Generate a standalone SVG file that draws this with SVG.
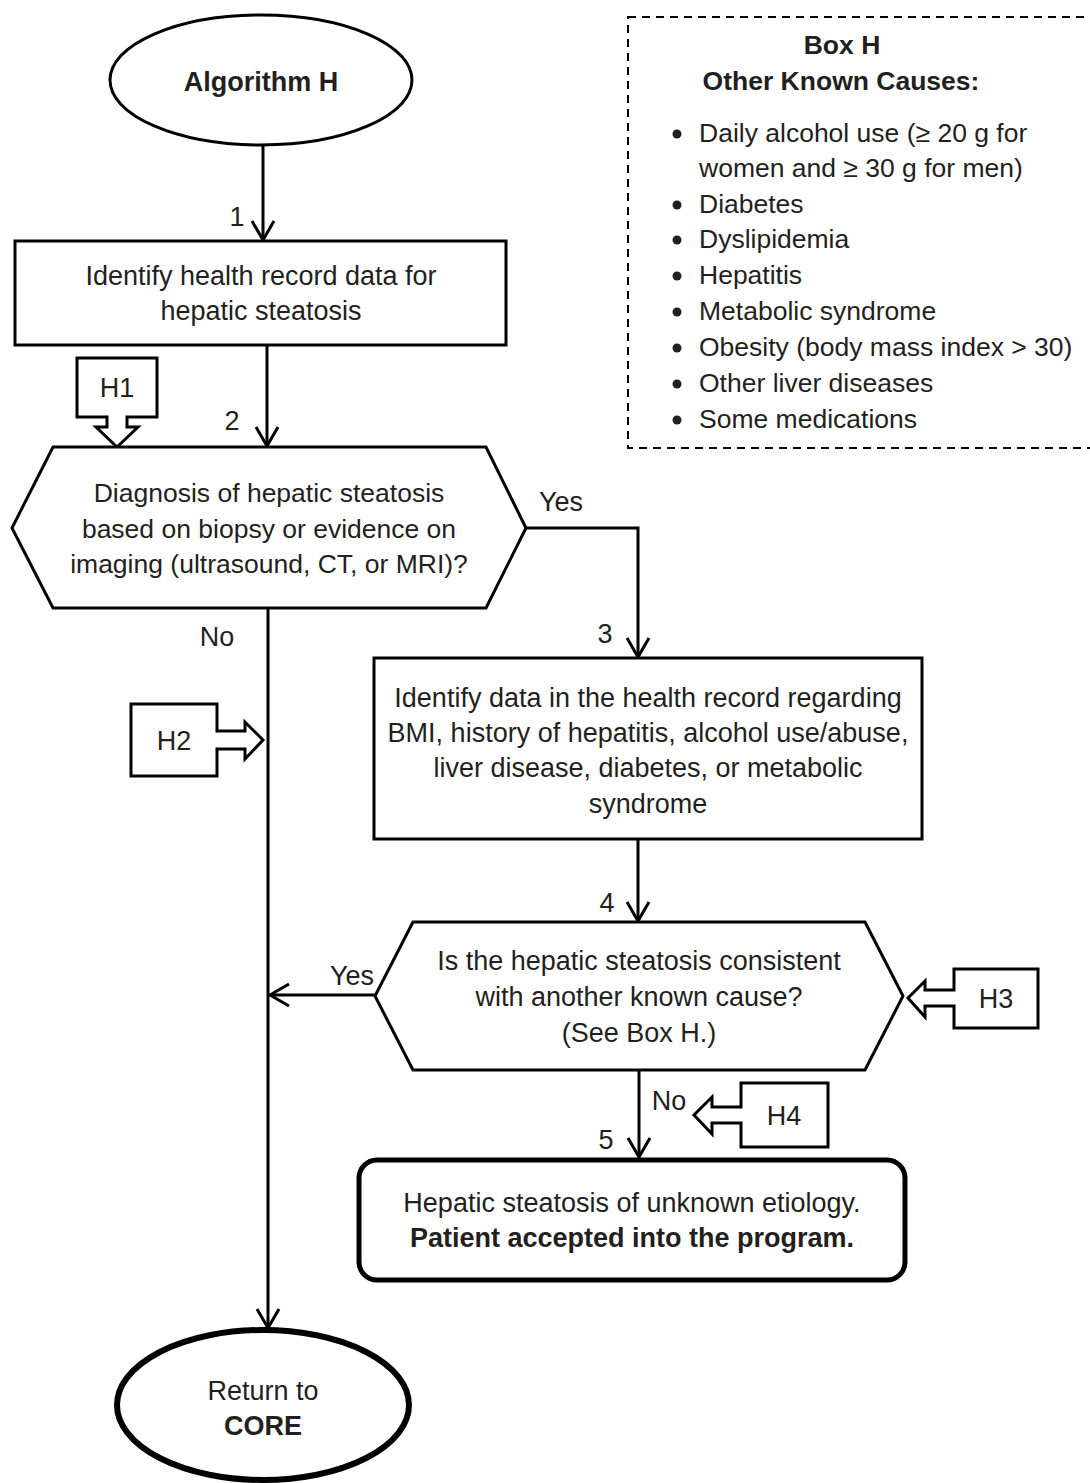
<svg xmlns="http://www.w3.org/2000/svg" width="1090" height="1483" viewBox="0 0 1090 1483">
<defs>
<style>
text{font-family:"Liberation Sans",Arial,sans-serif;font-size:27px;fill:#231f20}
.c{text-anchor:middle}
.b{font-weight:bold}
.s26{font-size:26.5px}
.sh{fill:#fff;stroke:#000;stroke-width:3;stroke-linejoin:miter}
.thick{fill:#fff;stroke:#000;stroke-width:6}
.ln{fill:none;stroke:#000;stroke-width:3}
.dash{fill:none;stroke:#000;stroke-width:2;stroke-dasharray:8 6}
</style>
<marker id="ah" markerUnits="userSpaceOnUse" markerWidth="24" markerHeight="26" viewBox="0 0 24 26" refX="21" refY="13" orient="auto">
<path d="M2,2 L21,13 L2,24" fill="none" stroke="#000" stroke-width="3"/>
</marker>
</defs>
<rect width="1090" height="1483" fill="#fff"/>

<g id="connectors">
<line class="ln" x1="263" y1="145" x2="263" y2="240" marker-end="url(#ah)"/>
<line class="ln" x1="267" y1="345" x2="267" y2="446" marker-end="url(#ah)"/>
<polyline class="ln" points="526,528 638,528 638,657" marker-end="url(#ah)"/>
<line class="ln" x1="268" y1="608" x2="268" y2="1328" marker-end="url(#ah)"/>
<line class="ln" x1="638" y1="839" x2="638" y2="921" marker-end="url(#ah)"/>
<line class="ln" x1="375" y1="995" x2="270" y2="995" marker-end="url(#ah)"/>
<line class="ln" x1="639" y1="1070" x2="639" y2="1157" marker-end="url(#ah)"/>
<text class="c" x="237" y="226">1</text>
<text class="c" x="232" y="430">2</text>
<text class="c" x="561" y="511">Yes</text>
<text class="c" x="217" y="646">No</text>
<text class="c" x="605" y="643">3</text>
<text class="c" x="607" y="912">4</text>
<text class="c" x="352" y="985">Yes</text>
<text class="c" x="669" y="1110">No</text>
<text class="c" x="606" y="1149">5</text>
</g>

<g id="start">
<ellipse class="sh" cx="261" cy="80" rx="151" ry="65"/>
<text class="c b" x="261" y="91">Algorithm H</text>
</g>

<g id="step1">
<rect class="sh" x="15" y="241" width="491" height="104"/>
<text class="c" x="261" y="285">Identify health record data for</text>
<text class="c" x="261" y="320">hepatic steatosis</text>
</g>

<g id="h1">
<polygon class="sh" points="77,358 157,358 157,417 127,417 127,427 138,427 117,447 96,427 107,427 107,417 77,417"/>
<text class="c" x="117" y="397">H1</text>
</g>

<g id="decision2">
<polygon class="sh" points="53,447 486,447 526,528 486,608 53,608 12,528"/>
<text class="c s26" x="269" y="502">Diagnosis of hepatic steatosis</text>
<text class="c s26" x="269" y="538">based on biopsy or evidence on</text>
<text class="c s26" x="269" y="573">imaging (ultrasound, CT, or MRI)?</text>
</g>

<g id="h2">
<polygon class="sh" points="131,704 217,704 217,731 245,731 245,722 263,740 245,759 245,749 217,749 217,776 131,776"/>
<text class="c" x="174" y="750">H2</text>
</g>

<g id="step3">
<rect class="sh" x="374" y="658" width="548" height="181"/>
<text class="c" x="648" y="707">Identify data in the health record regarding</text>
<text class="c" x="648" y="742">BMI, history of hepatitis, alcohol use/abuse,</text>
<text class="c" x="648" y="777">liver disease, diabetes, or metabolic</text>
<text class="c" x="648" y="813">syndrome</text>
</g>

<g id="decision4">
<polygon class="sh" points="413,922 865,922 903,996 865,1070 413,1070 375,996"/>
<text class="c" x="639" y="970">Is the hepatic steatosis consistent</text>
<text class="c" x="639" y="1006">with another known cause?</text>
<text class="c" x="639" y="1042">(See Box H.)</text>
</g>

<g id="h3">
<polygon class="sh" points="1038,969 954,969 954,990 925,990 925,981 908,998 925,1017 925,1006 954,1006 954,1028 1038,1028"/>
<text class="c" x="996" y="1008">H3</text>
</g>

<g id="h4">
<polygon class="sh" points="828,1083 741,1083 741,1107 712,1107 712,1097 694,1115 712,1134 712,1123 741,1123 741,1147 828,1147"/>
<text class="c" x="784" y="1125">H4</text>
</g>

<g id="step5">
<rect class="thick" x="359" y="1160" width="546" height="120" rx="18" ry="18" style="stroke-width:5"/>
<text class="c" x="632" y="1212">Hepatic steatosis of unknown etiology.</text>
<text class="c b" x="632" y="1247">Patient accepted into the program.</text>
</g>

<g id="end">
<ellipse class="thick" cx="263" cy="1405" rx="146" ry="75"/>
<text class="c" x="263" y="1400">Return to</text>
<text class="c b" x="263" y="1435">CORE</text>
</g>

<g id="boxH">
<rect class="dash" x="628" y="17" width="480" height="431"/>
<text class="c b s26" x="842" y="54">Box H</text>
<text class="c b s26" x="841" y="90">Other Known Causes:</text>
<g fill="#231f20">
<circle cx="677" cy="134" r="4.5"/>
<circle cx="677" cy="205" r="4.5"/>
<circle cx="677" cy="240" r="4.5"/>
<circle cx="677" cy="276" r="4.5"/>
<circle cx="677" cy="312" r="4.5"/>
<circle cx="677" cy="348" r="4.5"/>
<circle cx="677" cy="384" r="4.5"/>
<circle cx="677" cy="420" r="4.5"/>
</g>
<text class="s26" x="699" y="142">Daily alcohol use (≥ 20 g for</text>
<text class="s26" x="699" y="177">women and ≥ 30 g for men)</text>
<text class="s26" x="699" y="213">Diabetes</text>
<text class="s26" x="699" y="248">Dyslipidemia</text>
<text class="s26" x="699" y="284">Hepatitis</text>
<text class="s26" x="699" y="320">Metabolic syndrome</text>
<text class="s26" x="699" y="356">Obesity (body mass index &gt; 30)</text>
<text class="s26" x="699" y="392">Other liver diseases</text>
<text class="s26" x="699" y="428">Some medications</text>
</g>
</svg>
